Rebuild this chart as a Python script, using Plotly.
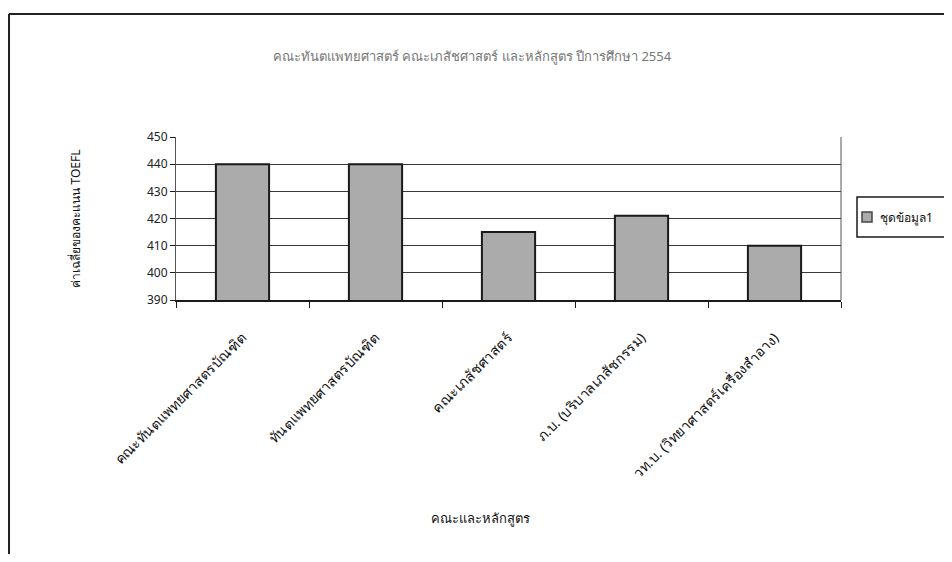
"""TOEFL average score by faculty / programme, academic year 2554."""
import plotly.graph_objects as go

# ── Data ─────────────────────────────────────────────────────────────────────
programmes = [
    "คณะทันตแพทยศาสตรบัณฑิต",
    "ทันตแพทยศาสตรบัณฑิต",
    "คณะเภสัชศาสตร์",
    "ภ.บ. (บริบาลเภสัชกรรม)",
    "วท.บ. (วิทยาศาสตร์เครื่องสำอาง)",
]
toefl_mean = [440, 440, 415, 421, 410]
series_name = "ชุดข้อมูล1"
y_ticks = [390, 400, 410, 420, 430, 440, 450]

# ── Design tokens ────────────────────────────────────────────────────────────
_FONT = "Noto Sans, DejaVu Sans, sans-serif"
_BAR = "#ababab"
_EDGE = "#1a1a1a"
_GRID = "#3a3a3a"

# figure sits inside the 8px body margin of the page
OFF = 8
FW, FH = 952 - 2 * OFF, 562 - 2 * OFF
# plot area, page pixels
PL, PR, PT, PB = 176, 841, 137, 300
L, R, T, B = PL - OFF, FW - (PR - OFF), PT - OFF, FH - (PB - OFF)
W, H = PR - PL, PB - PT


def px_x(p):
    return (p - PL) / W


def px_y(p):
    return (PB - p) / H


def paper_line(x0, y0, x1, y1, color="#222", width=2):
    return dict(type="line", xref="paper", yref="paper",
                x0=px_x(x0), x1=px_x(x1), y0=px_y(y0), y1=px_y(y1),
                line=dict(color=color, width=width))


fig = go.Figure(
    go.Bar(
        x=programmes,
        y=toefl_mean,
        name=series_name,
        marker=dict(color=_BAR, line=dict(color=_EDGE, width=2)),
        showlegend=False,
        hovertemplate="%{x}<br><b>%{y}</b><extra></extra>",
    )
)

fig.update_layout(
    width=FW,
    height=FH,
    paper_bgcolor="white",
    plot_bgcolor="white",
    font=dict(family=_FONT, size=11, color="#111"),
    margin=dict(l=L, r=R, t=T, b=B, autoexpand=False),
    bargap=0.6,
    title=dict(
        text="คณะทันตแพทยศาสตร์ คณะเภสัชศาสตร์ และหลักสูตร ปีการศึกษา 2554",
        font=dict(size=13, color="#777"),
        x=px_x(472), xref="paper", xanchor="center",
        y=1 - (56 - OFF) / FH, yanchor="middle",
    ),
    xaxis=dict(
        tickangle=-45,
        tickfont=dict(size=14),
        ticklabelstandoff=22,
        showgrid=False,
        showline=True, linecolor=_EDGE, linewidth=2,
        ticks="outside", ticklen=6, tickcolor=_EDGE,
        tickson="boundaries",
    ),
    yaxis=dict(
        title=dict(text="ค่าเฉลี่ยของคะแนน TOEFL", font=dict(size=12), standoff=63),
        range=[390, 450],
        tickvals=y_ticks,
        tickfont=dict(size=12, color="#222"),
        showgrid=True, gridcolor=_GRID, gridwidth=1,
        showline=True, linecolor="#555", linewidth=1,
        ticks="outside", ticklen=5, tickcolor=_EDGE,
        zeroline=False,
    ),
    shapes=[
        # right edge of the plot frame
        dict(type="line", xref="paper", yref="paper",
             x0=1, x1=1, y0=0, y1=1, line=dict(color="#555", width=1)),
        # outer chart border (left + top, cut by the page edges)
        paper_line(9, 14, 9, 580),
        paper_line(9, 14, 970, 14),
        # legend box (cut by the right page edge) and its swatch
        dict(type="rect", xref="paper", yref="paper",
             x0=px_x(857), x1=px_x(990), y0=px_y(237), y1=px_y(197),
             line=dict(color=_EDGE, width=1.5), fillcolor="white"),
        dict(type="rect", xref="paper", yref="paper",
             x0=px_x(862), x1=px_x(872), y0=px_y(222), y1=px_y(212),
             line=dict(color="#444", width=1.5), fillcolor=_BAR),
    ],
)

fig.add_annotation(
    text=series_name, xref="paper", yref="paper",
    x=px_x(878), y=px_y(217), xanchor="left", yanchor="middle",
    showarrow=False, font=dict(size=12, color="#111"),
)

# x-axis title near the bottom of the chart
fig.add_annotation(
    text="คณะและหลักสูตร", xref="paper", yref="paper",
    x=px_x(480), y=px_y(529), showarrow=False,
    font=dict(size=13, color="#111"),
)

fig.write_html("out.html")
